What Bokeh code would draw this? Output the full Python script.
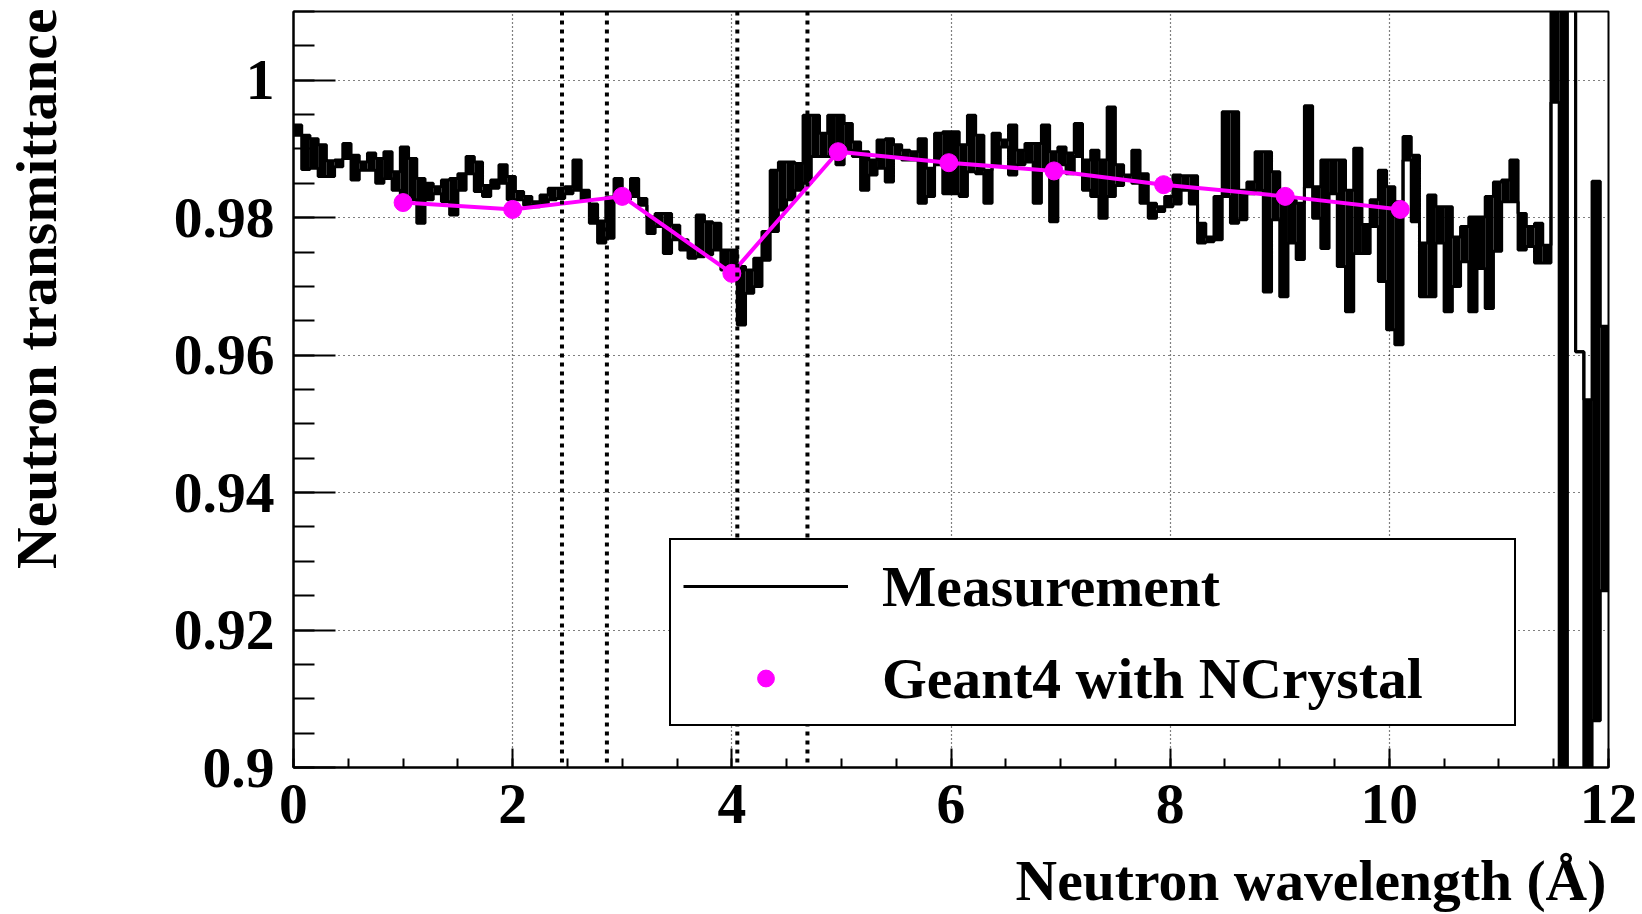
import numpy as np
from bokeh.plotting import figure
from bokeh.models import FixedTicker, Span, Legend, LegendItem
from bokeh.embed import file_html
from bokeh.resources import INLINE

# ---------------- data ----------------
bin_width = 0.075  # Angstrom per histogram bin (0 .. 12 A, 160 bins)

# upper / lower envelope of the measured transmittance in each bin
meas_hi = [
    0.9935, 0.9920, 0.9915, 0.9906, 0.9883, 0.9884, 0.9908, 0.9891, 0.9881, 0.9894,
    0.9886, 0.9896, 0.9867, 0.9903, 0.9886, 0.9857, 0.9850, 0.9845, 0.9855, 0.9857,
    0.9864, 0.9889, 0.9881, 0.9847, 0.9855, 0.9877, 0.9860, 0.9838, 0.9831, 0.9823,
    0.9833, 0.9843, 0.9843, 0.9845, 0.9884, 0.9840, 0.9820, 0.9795, 0.9830, 0.9857,
    0.9831, 0.9857, 0.9828, 0.9801, 0.9806, 0.9806, 0.9789, 0.9768, 0.9758, 0.9804,
    0.9794, 0.9792, 0.9753, 0.9753, 0.9729, 0.9724, 0.9741, 0.9780, 0.9869, 0.9881,
    0.9881, 0.9879, 0.9949, 0.9949, 0.9923, 0.9949, 0.9949, 0.9937, 0.9910, 0.9896,
    0.9884, 0.9913, 0.9915, 0.9906, 0.9898, 0.9896, 0.9915, 0.9872, 0.9923, 0.9925,
    0.9925, 0.9906, 0.9949, 0.9920, 0.9869, 0.9923, 0.9913, 0.9935, 0.9898, 0.9908,
    0.9908, 0.9935, 0.9896, 0.9903, 0.9894, 0.9937, 0.9884, 0.9898, 0.9884, 0.9961,
    0.9877, 0.9862, 0.9898, 0.9864, 0.9821, 0.9816, 0.9831, 0.9862, 0.9861, 0.9861,
    0.9792, 0.9772, 0.9831, 0.9954, 0.9954, 0.9840, 0.9852, 0.9896, 0.9896, 0.9867,
    0.9826, 0.9826, 0.9821, 0.9963, 0.9845, 0.9884, 0.9884, 0.9884, 0.9840, 0.9901,
    0.9790, 0.9826, 0.9869, 0.9845, 0.9823, 0.9918, 0.9891, 0.9763, 0.9833, 0.9816,
    0.9816, 0.9772, 0.9787, 0.9801, 0.9801, 0.9831, 0.9852, 0.9855, 0.9884, 0.9806,
    0.9787, 0.9792, 0.9760, 1.0300, 1.0300, 1.0300, 0.9605, 0.9535, 0.9853, 0.9642,
]
meas_lo = [
    0.9920, 0.9870, 0.9872, 0.9860, 0.9860, 0.9874, 0.9886, 0.9855, 0.9869, 0.9869,
    0.9850, 0.9857, 0.9840, 0.9831, 0.9826, 0.9792, 0.9826, 0.9835, 0.9823, 0.9804,
    0.9840, 0.9864, 0.9838, 0.9831, 0.9843, 0.9850, 0.9826, 0.9826, 0.9818, 0.9816,
    0.9818, 0.9826, 0.9828, 0.9835, 0.9840, 0.9826, 0.9792, 0.9763, 0.9770, 0.9826,
    0.9826, 0.9831, 0.9818, 0.9777, 0.9787, 0.9748, 0.9768, 0.9753, 0.9741, 0.9743,
    0.9746, 0.9753, 0.9724, 0.9715, 0.9644, 0.9690, 0.9700, 0.9738, 0.9780, 0.9811,
    0.9826, 0.9840, 0.9850, 0.9889, 0.9889, 0.9889, 0.9877, 0.9898, 0.9889, 0.9840,
    0.9862, 0.9872, 0.9852, 0.9889, 0.9884, 0.9884, 0.9821, 0.9831, 0.9877, 0.9835,
    0.9835, 0.9831, 0.9867, 0.9864, 0.9821, 0.9877, 0.9903, 0.9862, 0.9877, 0.9881,
    0.9821, 0.9869, 0.9794, 0.9877, 0.9864, 0.9889, 0.9840, 0.9831, 0.9799, 0.9831,
    0.9847, 0.9855, 0.9850, 0.9821, 0.9799, 0.9809, 0.9816, 0.9820, 0.9840, 0.9820,
    0.9763, 0.9765, 0.9768, 0.9831, 0.9792, 0.9797, 0.9835, 0.9840, 0.9692, 0.9797,
    0.9685, 0.9763, 0.9739, 0.9845, 0.9799, 0.9755, 0.9835, 0.9729, 0.9663, 0.9748,
    0.9748, 0.9787, 0.9707, 0.9637, 0.9615, 0.9884, 0.9794, 0.9685, 0.9685, 0.9763,
    0.9663, 0.9700, 0.9736, 0.9663, 0.9726, 0.9668, 0.9751, 0.9823, 0.9823, 0.9753,
    0.9758, 0.9734, 0.9734, 0.9968, 0.8800, 1.0300, 0.9605, 0.8800, 0.9068, 0.9257,
]

# Geant4 + NCrystal simulation points
g4_wavelength = [1.0, 2.0, 3.0, 4.0, 4.97, 5.98, 6.94, 7.94, 9.05, 10.1]
g4_transmittance = [0.9822, 0.9812, 0.9831, 0.9719, 0.9896, 0.9880, 0.9868, 0.9848, 0.9831, 0.9812]

# Bragg-edge marker positions (Angstrom)
bragg_edges = [2.45, 2.86, 4.05, 4.69]

x_major = [0, 2, 4, 6, 8, 10, 12]
x_labels = ["0", "2", "4", "6", "8", "10", "12"]
y_major = [0.9, 0.92, 0.94, 0.96, 0.98, 1.0]
y_labels = ["0.9", "0.92", "0.94", "0.96", "0.98", "1"]

x_title = "Neutron wavelength (Å)"
y_title = "Neutron transmittance"

# ---------------- figure ----------------
FONT = "Liberation Serif"
FS = "57.6px"
NBSP = "\u00a0"

p = figure(width=1642, height=914, x_range=(0, 12), y_range=(0.9, 1.01),
           output_backend="svg", toolbar_location=None,
           min_border_left=293, min_border_right=34, min_border_top=11, min_border_bottom=146)
p.outline_line_color = "black"
p.outline_line_width = 2
p.background_fill_color = "white"
p.border_fill_color = "white"

# grid
p.xgrid[0].ticker = FixedTicker(ticks=x_major[1:-1])
p.ygrid[0].ticker = FixedTicker(ticks=y_major[1:])
for g in (p.xgrid[0], p.ygrid[0]):
    g.grid_line_color = "black"
    g.grid_line_width = 1.2
    g.grid_line_alpha = 1.0
p.xgrid[0].grid_line_dash = "1 3"
p.ygrid[0].grid_line_dash = "1 4"

# axes
n_minor_x = int(round(12 / 0.5))
x_minor = [0.5 * i for i in range(n_minor_x + 1)]
y_minor = [round(0.9 + 0.005 * i, 3) for i in range(23)]

xa = p.xaxis[0]
xa.ticker = FixedTicker(ticks=x_major, minor_ticks=x_minor)
xa.major_label_overrides = {t: s for t, s in zip(x_major, x_labels)}
xa.major_tick_in = 19
xa.major_tick_out = 0
xa.minor_tick_in = 9
xa.minor_tick_out = 0
xa.major_label_standoff = 17

ya = p.yaxis[0]
ya.ticker = FixedTicker(ticks=y_major, minor_ticks=y_minor)
ya.major_label_overrides = {t: s for t, s in zip(y_major, y_labels)}
ya.major_tick_in = 42
ya.major_tick_out = 0
ya.minor_tick_in = 21
ya.minor_tick_out = 0
ya.major_label_standoff = 19

for ax in (xa, ya):
    ax.axis_line_width = 2
    ax.axis_line_color = "black"
    ax.major_tick_line_width = 2
    ax.minor_tick_line_width = 2
    ax.major_tick_line_color = "black"
    ax.minor_tick_line_color = "black"
    ax.major_label_text_font = FONT
    ax.major_label_text_font_style = "bold"
    ax.major_label_text_font_size = FS
    ax.major_label_text_color = "black"
    ax.axis_label_text_font = FONT
    ax.axis_label_text_font_style = "bold"
    ax.axis_label_text_font_size = FS
    ax.axis_label_text_color = "black"

# ROOT-style titles pushed to the far end of each axis (leading no-break spaces)
xa.axis_label = NBSP * 50 + x_title
xa.axis_label_standoff = 23
ya.axis_label = NBSP * 14 + y_title
ya.axis_label_standoff = 103

# Bragg edge lines
for e in bragg_edges:
    p.add_layout(Span(location=e, dimension="height", line_color="black",
                      line_width=4, line_dash="4 5"))

# measurement histogram (envelope of the fine bins)
edges = [i * bin_width for i in range(len(meas_hi) + 1)]
p.quad(left=edges[:-1], right=edges[1:], bottom=meas_lo, top=meas_hi,
       fill_color="black", line_color=None)
r_hi = p.step(x=edges, y=meas_hi + [meas_hi[-1]], mode="after", line_color="black", line_width=3)
p.step(x=edges, y=meas_lo + [meas_lo[-1]], mode="after", line_color="black", line_width=3)

# Geant4 simulation
p.line(g4_wavelength, g4_transmittance, line_color="#ff00ff", line_width=4)
r_pts = p.scatter(g4_wavelength, g4_transmittance, size=18, fill_color="#ff00ff",
                  line_color="#ff00ff", marker="circle")

legend = Legend(items=[LegendItem(label="Measurement", renderers=[r_hi]),
                       LegendItem(label="Geant4 with NCrystal", renderers=[r_pts])],
                location=(376, 41), margin=0, padding=12, spacing=24,
                glyph_width=165, glyph_height=42, label_height=68, label_width=620,
                label_standoff=34,
                label_text_font=FONT, label_text_font_style="bold",
                label_text_font_size=FS, label_text_color="black",
                border_line_color="black", border_line_width=2, border_line_alpha=1.0,
                background_fill_color="white", background_fill_alpha=1.0)
p.add_layout(legend)

open("out.html", "w").write(file_html(p, INLINE))
